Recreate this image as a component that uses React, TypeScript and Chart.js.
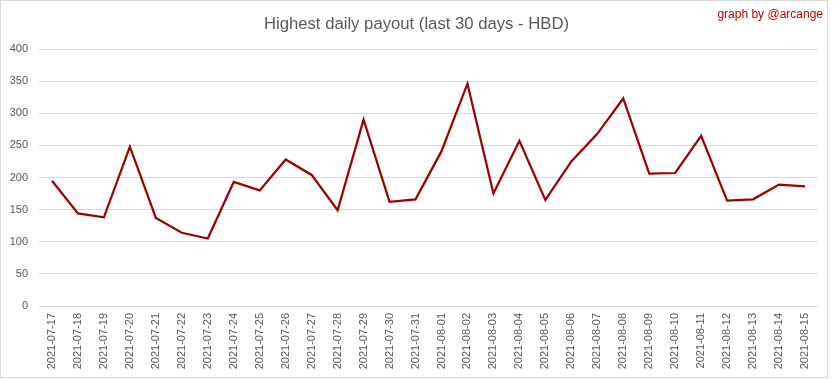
import React, { useEffect, useRef } from "react";
import { Chart, registerables } from "chart.js";

Chart.register(...registerables);

const categories: string[] = [
  "2021-07-17", "2021-07-18", "2021-07-19", "2021-07-20", "2021-07-21", "2021-07-22",
  "2021-07-23", "2021-07-24", "2021-07-25", "2021-07-26", "2021-07-27", "2021-07-28",
  "2021-07-29", "2021-07-30", "2021-07-31", "2021-08-01", "2021-08-02", "2021-08-03",
  "2021-08-04", "2021-08-05", "2021-08-06", "2021-08-07", "2021-08-08", "2021-08-09",
  "2021-08-10", "2021-08-11", "2021-08-12", "2021-08-13", "2021-08-14", "2021-08-15",
];

const payouts: number[] = [
  195, 144, 138, 248, 137, 114, 105, 193, 180, 228, 204, 149,
  290, 162, 166, 241, 346, 175, 257, 165, 225, 268, 323, 206,
  207, 265, 164, 166, 189, 186,
];

const yTicks: number[] = [0, 50, 100, 150, 200, 250, 300, 350, 400];

const titleText = "Highest daily payout (last 30 days - HBD)";
const creditText = "graph by @arcange";

export default function App() {
  const ref = useRef<HTMLCanvasElement | null>(null);

  useEffect(() => {
    document.body.style.margin = "0";
    const canvas = ref.current;
    if (!canvas) return;

    const textPlugin = {
      id: "textPlugin",
      afterDraw(chart: any) {
        const ctx = chart.ctx;
        ctx.save();
        ctx.fillStyle = "#595959";
        ctx.font = "16.7px 'Liberation Sans', Arial, sans-serif";
        ctx.textAlign = "center";
        ctx.textBaseline = "middle";
        ctx.fillText(titleText, 415.5, 23);
        ctx.fillStyle = "#c00000";
        ctx.font = "12px 'Liberation Sans', Arial, sans-serif";
        ctx.textAlign = "right";
        ctx.fillText(creditText, 822, 14);
        ctx.restore();
      },
    };

    const chart = new Chart(canvas, {
      type: "line",
      data: {
        labels: categories,
        datasets: [
          {
            data: payouts,
            borderColor: "#9c0000",
            borderWidth: 2.25,
            pointRadius: 0,
            tension: 0,
            fill: false,
          },
        ],
      },
      options: {
        animation: false,
        responsive: false,
        maintainAspectRatio: false,
        layout: { padding: { left: 0, right: 9, top: 48, bottom: 0 } },
        plugins: {
          legend: { display: false },
          title: { display: false },
          tooltip: { enabled: false },
        },
        scales: {
          x: {
            offset: true,
            grid: { display: false, drawTicks: false },
            border: { display: false },
            afterFit: (s: any) => {
              s.height = 71;
            },
            ticks: {
              autoSkip: false,
              maxRotation: 90,
              minRotation: 90,
              padding: 7,
              color: "#595959",
              font: { size: 11, family: "'Liberation Sans', Arial, sans-serif" },
            },
          },
          y: {
            min: 0,
            max: 400,
            afterFit: (s: any) => {
              s.width = 38;
            },
            afterBuildTicks: (s: any) => {
              s.ticks = yTicks.map((v) => ({ value: v }));
            },
            grid: { color: "#d9d9d9", lineWidth: 1, drawTicks: false },
            border: { display: false },
            ticks: {
              padding: 11,
              color: "#595959",
              font: { size: 11, family: "'Liberation Sans', Arial, sans-serif" },
            },
          },
        },
      },
      plugins: [textPlugin],
    });

    return () => chart.destroy();
  }, []);

  return (
    <div
      style={{
        position: "absolute",
        left: 0,
        top: 0,
        width: 828,
        height: 378,
        border: "1px solid #d9d9d9",
        boxSizing: "border-box",
        background: "#fff",
      }}
    >
      <canvas ref={ref} width={826} height={376} style={{ display: "block", width: 826, height: 376 }} />
    </div>
  );
}
